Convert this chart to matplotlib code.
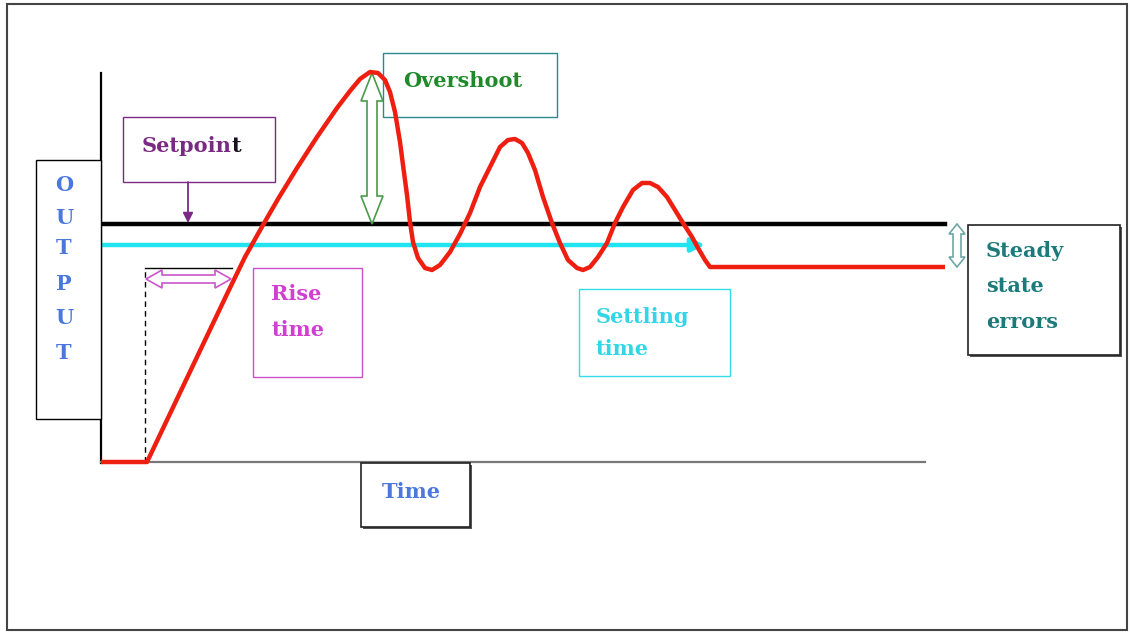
import matplotlib
matplotlib.use("Agg")
import matplotlib.pyplot as plt
import numpy as np
from matplotlib.patches import Rectangle, Polygon

# diagram drawn in picture units (x right, y down)
response_x = [101, 147, 187, 227, 245, 263, 278, 297, 317, 337, 350, 360, 370, 378, 385,
              390, 395, 400, 403, 407, 410, 413, 418, 425, 432, 440, 450, 460, 470, 480,
              490, 500, 508, 515, 522, 528, 535, 543, 552, 560, 568, 577, 583, 590, 598,
              607, 615, 623, 633, 642, 650, 658, 667, 675, 683, 692, 698, 705, 710, 945]
response_y = [462, 462, 378, 294, 257, 225, 199, 168, 137, 108, 91, 79, 72, 73, 80,
              92, 112, 142, 165, 195, 222, 242, 258, 268, 270, 265, 252, 234, 213, 187,
              167, 147, 140, 139, 143, 153, 170, 197, 223, 243, 260, 268, 270, 267, 257,
              243, 223, 207, 190, 183, 183, 187, 197, 210, 223, 237, 248, 260, 267, 267]
setpoint_y = 224
settling_y = 245
settling_end_x = 705
output_letters = ["O", "U", "T", "P", "U", "T"]
output_letter_y = [185, 218, 248, 284, 318, 353]

FONT = dict(family="DejaVu Serif", fontweight="bold", fontsize=15)


def hollow_arrow(ax, x0, y0, x1, y1, color, shaft=5, head=11, head_len=26, lw=1.2):
    p0 = np.array([x0, y0], float)
    p1 = np.array([x1, y1], float)
    u = (p1 - p0) / np.hypot(*(p1 - p0))
    n = np.array([-u[1], u[0]])
    pts = [p0, p0 + u * head_len + n * head, p0 + u * head_len + n * shaft,
           p1 - u * head_len + n * shaft, p1 - u * head_len + n * head, p1,
           p1 - u * head_len - n * head, p1 - u * head_len - n * shaft,
           p0 + u * head_len - n * shaft, p0 + u * head_len - n * head]
    ax.add_patch(Polygon(pts, closed=True, fc="white", ec=color, lw=lw, zorder=5))


def box(ax, x0, y0, x1, y1, color, lw=1.0, shadow=False):
    if shadow:
        ax.add_patch(Rectangle((x0 + 2, y0 + 2), x1 - x0, y1 - y0, fc="#555555",
                               ec="none", zorder=3))
    ax.add_patch(Rectangle((x0, y0), x1 - x0, y1 - y0, fc="white", ec=color,
                           lw=lw, zorder=4))


fig = plt.figure(figsize=(11.3, 6.32), dpi=100)
ax = fig.add_axes([0, 0, 1, 1])
ax.set_xlim(0, 1130)
ax.set_ylim(632, 0)
ax.axis("off")

# outer frame
ax.add_patch(Rectangle((7, 4), 1120, 626, fc="none", ec="#444444", lw=1.5))

# axes of the diagram
ax.plot([101, 101], [73, 463], color="black", lw=1.6, zorder=2)
ax.plot([101, 925], [462, 462], color="#777777", lw=1.6, zorder=2)

# setpoint and settling band
ax.plot([101, 945], [setpoint_y, setpoint_y], color="black", lw=3.2, zorder=2)
ax.annotate("", xy=(settling_end_x, settling_y), xytext=(101, settling_y),
            arrowprops=dict(arrowstyle="-|>,head_width=0.4,head_length=0.8",
                            color="#22e4f0", lw=3.2, shrinkA=0, shrinkB=0), zorder=2)

# rise time marker lines
ax.plot([145, 145], [462, 268], color="black", lw=1.0, ls=(0, (4, 3)), zorder=2)
ax.plot([145, 232], [268, 268], color="black", lw=1.0, zorder=2)

# response curve
ax.plot(response_x, response_y, color="#ee1e10", lw=3.2, solid_joinstyle="round",
        solid_capstyle="butt", zorder=6)

# OUTPUT box
box(ax, 36, 160, 101, 419, "black")
for letter, ly in zip(output_letters, output_letter_y):
    ax.text(64, ly, letter, color="#4a78dc", ha="center", va="center", zorder=7, **FONT)

# Setpoint
box(ax, 123, 117, 275, 182, "#7a2a82")
sp = ax.text(142, 146, "Setpoin", color="#7a2a82", ha="left", va="center", zorder=7, **FONT)
ax.annotate("t", xy=(1, 1), xycoords=sp, ha="left", va="top", color="#1a1020",
            zorder=7, **FONT)
ax.annotate("", xy=(188, setpoint_y - 1), xytext=(188, 182),
            arrowprops=dict(arrowstyle="-|>,head_width=0.3,head_length=0.6",
                            color="#7a2a82", lw=1.3, shrinkA=0, shrinkB=0), zorder=5)

# Overshoot
box(ax, 383, 53, 557, 117, "#2a8a8a")
ax.text(403, 81, "Overshoot", color="#1f8a2a", ha="left", va="center", zorder=7, **FONT)
hollow_arrow(ax, 372, 73, 372, setpoint_y, "#4a9a4a", shaft=5, head=11, head_len=28)

# Rise time
box(ax, 253, 268, 362, 377, "#cc4fcc")
ax.text(271, 294, "Rise", color="#d23ed2", ha="left", va="center", zorder=7, **FONT)
ax.text(271, 330, "time", color="#d23ed2", ha="left", va="center", zorder=7, **FONT)
hollow_arrow(ax, 146, 279, 231, 279, "#cc55cc", shaft=4, head=9, head_len=16)

# Settling time
box(ax, 579, 289, 730, 376, "#33dce8")
ax.text(596, 317, "Settling", color="#33d6e6", ha="left", va="center", zorder=7, **FONT)
ax.text(596, 349, "time", color="#33d6e6", ha="left", va="center", zorder=7, **FONT)

# Steady state errors
box(ax, 968, 225, 1120, 355, "#222222", lw=1.2, shadow=True)
for txt, ty in zip(["Steady", "state", "errors"], [251, 286, 322]):
    ax.text(986, ty, txt, color="#1d7a7a", ha="left", va="center", zorder=7, **FONT)
hollow_arrow(ax, 957, 224, 957, 267, "#6fa6a6", shaft=4, head=8, head_len=10)

# Time
box(ax, 361, 463, 470, 527, "#222222", lw=1.2, shadow=True)
ax.text(382, 492, "Time", color="#4a78dc", ha="left", va="center", zorder=7, **FONT)

fig.savefig("out.png", dpi=100)
